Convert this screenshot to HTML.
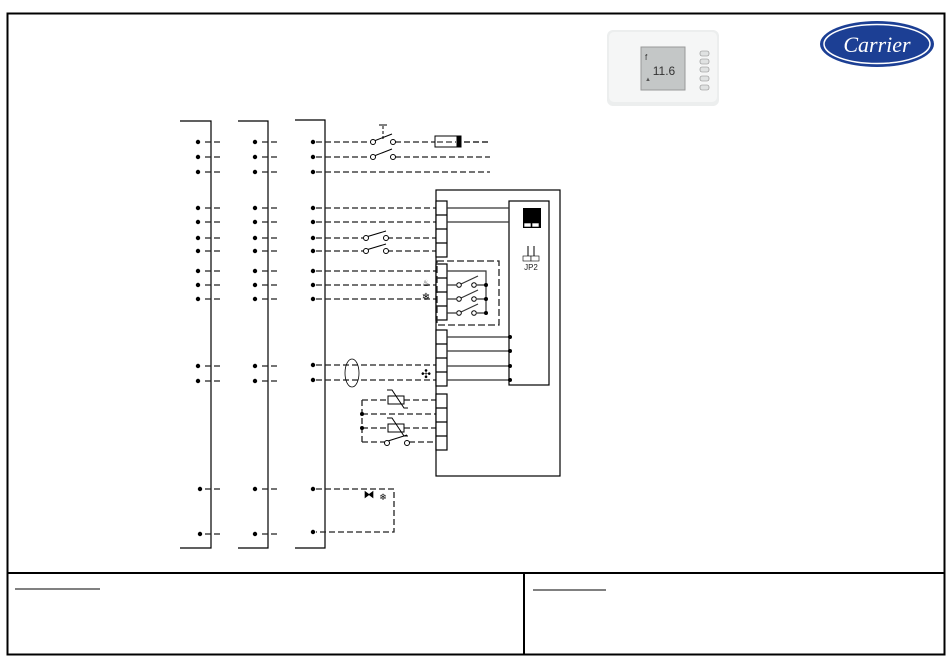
<!DOCTYPE html><html><head><meta charset="utf-8"><style>body{margin:0;background:#fff}svg{display:block}</style></head><body>
<svg width="950" height="667" viewBox="0 0 950 667" xmlns="http://www.w3.org/2000/svg" font-family="Liberation Sans, sans-serif">
<rect x="7.5" y="13.5" width="937" height="641" fill="none" stroke="#000" stroke-width="2"/>
<line x1="7" y1="573" x2="945" y2="573" stroke="#000" stroke-width="2"/>
<line x1="524" y1="573" x2="524" y2="655" stroke="#000" stroke-width="2"/>
<line x1="15" y1="589" x2="100" y2="589" stroke="#000"/>
<line x1="533" y1="590" x2="606" y2="590" stroke="#000"/>
<!-- thermostat -->
<rect x="607" y="30" width="112" height="76" rx="6" fill="#eceeee"/>
<rect x="609" y="32" width="108" height="70" rx="5" fill="#f5f6f6"/>
<rect x="641" y="47" width="44" height="43" fill="#c4c7c7" stroke="#999"/>
<text x="664" y="75" font-size="12" fill="#333" text-anchor="middle">11.6</text>
<text x="645" y="60" font-size="8" fill="#333">f</text>
<text x="645" y="81" font-size="6" fill="#555">▲</text>
<g fill="#e0e2e2" stroke="#888" stroke-width="0.6"><rect x="700" y="51" width="9" height="5" rx="2"/><rect x="700" y="59" width="9" height="5" rx="2"/><rect x="700" y="67" width="9" height="5" rx="2"/><rect x="700" y="76" width="9" height="5" rx="2"/><rect x="700" y="85" width="9" height="5" rx="2"/></g>
<!-- Carrier -->
<ellipse cx="877" cy="44" rx="57" ry="23" fill="#1c3f94"/>
<ellipse cx="877" cy="44" rx="53" ry="19.5" fill="none" stroke="#fff" stroke-width="1.5"/>
<text x="877" y="52" font-size="22" font-style="italic" font-family="Liberation Serif, serif" fill="#fff" text-anchor="middle">Carrier</text>
<!-- bus columns -->
<g stroke="#000" fill="none" stroke-width="1.2">
<polyline points="180,121 211,121 211,548 180,548"/>
<polyline points="238,121 268,121 268,548 238,548"/>
<polyline points="295,120 325,120 325,548 295,548"/>
</g>
<g fill="#000">
<circle cx="198" cy="142" r="2.2"/><circle cx="198" cy="157" r="2.2"/><circle cx="198" cy="172" r="2.2"/><circle cx="198" cy="208" r="2.2"/><circle cx="198" cy="222" r="2.2"/><circle cx="198" cy="238" r="2.2"/><circle cx="198" cy="251" r="2.2"/><circle cx="198" cy="271" r="2.2"/><circle cx="198" cy="285" r="2.2"/><circle cx="198" cy="299" r="2.2"/><circle cx="198" cy="366" r="2.2"/><circle cx="198" cy="381" r="2.2"/><circle cx="200" cy="489" r="2.2"/><circle cx="200" cy="534" r="2.2"/>
<circle cx="255" cy="142" r="2.2"/><circle cx="255" cy="157" r="2.2"/><circle cx="255" cy="172" r="2.2"/><circle cx="255" cy="208" r="2.2"/><circle cx="255" cy="222" r="2.2"/><circle cx="255" cy="238" r="2.2"/><circle cx="255" cy="251" r="2.2"/><circle cx="255" cy="271" r="2.2"/><circle cx="255" cy="285" r="2.2"/><circle cx="255" cy="299" r="2.2"/><circle cx="255" cy="366" r="2.2"/><circle cx="255" cy="381" r="2.2"/><circle cx="255" cy="489" r="2.2"/><circle cx="255" cy="534" r="2.2"/>
<circle cx="313" cy="142" r="2.2"/><circle cx="313" cy="157" r="2.2"/><circle cx="313" cy="172" r="2.2"/><circle cx="313" cy="208" r="2.2"/><circle cx="313" cy="222" r="2.2"/><circle cx="313" cy="238" r="2.2"/><circle cx="313" cy="251" r="2.2"/><circle cx="313" cy="271" r="2.2"/><circle cx="313" cy="285" r="2.2"/><circle cx="313" cy="299" r="2.2"/><circle cx="313" cy="365" r="2.2"/><circle cx="313" cy="380" r="2.2"/><circle cx="313" cy="489" r="2.2"/><circle cx="313" cy="532" r="2.2"/>
</g>
<g stroke="#222" stroke-width="1.3" stroke-dasharray="6,3" fill="none">
<path d="M205 142H220M205 157H220M205 172H220M205 208H220M205 222H220M205 238H220M205 251H220M205 271H220M205 285H220M205 299H220M205 366H220M205 381H220M205 489H220M205 534H220"/>
<path d="M262 142H277M262 157H277M262 172H277M262 208H277M262 222H277M262 238H277M262 251H277M262 271H277M262 285H277M262 299H277M262 366H277M262 381H277M262 489H277M262 534H277"/>
<path d="M316 142H371M395 142H435M316 157H371M395 157H490M316 172H490"/>
<path d="M316 208H436M316 222H436M316 238H363M387 238H436M316 251H363M387 251H436"/>
<path d="M316 271H436M316 285H436M316 299H436"/>
<path d="M316 365H436M316 380H436"/>
<path d="M362 400H388M404 400H436M362 414H436M362 428H388M404 428H436M362 442H386M409 442H436M362 400V442"/>
<path d="M316 489H394V532H316"/>
</g>
<!-- switches -->
<g stroke="#000" fill="#fff" stroke-width="1">
<line x1="374" y1="141" x2="392" y2="134"/><line x1="383" y1="126" x2="383" y2="140" stroke-dasharray="3,2"/><line x1="379" y1="125" x2="387" y2="125"/>
<circle cx="373" cy="142" r="2.5"/><circle cx="393" cy="142" r="2.5"/>
<line x1="374" y1="156" x2="392" y2="149"/><circle cx="373" cy="157" r="2.5"/><circle cx="393" cy="157" r="2.5"/>
<line x1="366" y1="237" x2="386" y2="231"/><circle cx="366" cy="238" r="2.5"/><circle cx="386" cy="238" r="2.5"/>
<line x1="366" y1="250" x2="386" y2="244"/><circle cx="366" cy="251" r="2.5"/><circle cx="386" cy="251" r="2.5"/>
<line x1="388" y1="441" x2="407" y2="435"/><circle cx="387" cy="443" r="2.5"/><circle cx="407" cy="443" r="2.5"/>
<rect x="435" y="136" width="25" height="11"/><rect x="457" y="136" width="4" height="11" fill="#000"/>
<line x1="437" y1="142" x2="456" y2="142" stroke-dasharray="6,3"/>
<line x1="464" y1="142" x2="490" y2="142" stroke-dasharray="6,3" stroke-width="1.3"/>
</g>
<ellipse cx="352" cy="373" rx="7" ry="14" fill="none" stroke="#000" stroke-width="0.8"/>
<!-- main box -->
<g stroke="#000" fill="#fff" stroke-width="1.2">
<rect x="436" y="190" width="124" height="286"/>
<rect x="509" y="201" width="40" height="184"/>
<rect x="436" y="201" width="11" height="56"/><path d="M436 215H447M436 229H447M436 243H447" fill="none"/>
<rect x="436" y="264" width="11" height="56"/><path d="M436 278H447M436 292H447M436 306H447" fill="none"/>
<rect x="436" y="330" width="11" height="56"/><path d="M436 344H447M436 358H447M436 372H447" fill="none"/>
<rect x="436" y="394" width="11" height="56"/><path d="M436 408H447M436 422H447M436 436H447" fill="none"/>
</g>
<rect x="437" y="261" width="62" height="64" fill="none" stroke="#222" stroke-width="1.3" stroke-dasharray="7,3"/>
<g stroke="#333" stroke-width="1.2" fill="none">
<path d="M447 208H509M447 222H509M447 337H510M447 351H510M447 366H510M447 380H510"/>
<path d="M447 271H486V314M447 285H456M447 299H456M447 313H456M477 285H486M477 299H486M477 313H486"/>
<path d="M461 284L478 276M461 298L478 290M461 312L478 304"/>
</g>
<g fill="#fff" stroke="#000" stroke-width="1"><circle cx="459" cy="285" r="2.3"/><circle cx="474" cy="285" r="2.3"/><circle cx="459" cy="299" r="2.3"/><circle cx="474" cy="299" r="2.3"/><circle cx="459" cy="313" r="2.3"/><circle cx="474" cy="313" r="2.3"/>
<rect x="388" y="396" width="16" height="8"/><rect x="388" y="424" width="16" height="8"/>
<path d="M387 390L392 390L404 408L408 408" fill="none"/><path d="M387 418L392 418L404 436L408 436" fill="none"/>
</g>
<g fill="#000"><circle cx="486" cy="285" r="2"/><circle cx="486" cy="299" r="2"/><circle cx="486" cy="313" r="2"/><circle cx="510" cy="337" r="2"/><circle cx="510" cy="351" r="2"/><circle cx="510" cy="366" r="2"/><circle cx="510" cy="380" r="2"/><circle cx="362" cy="414" r="2"/><circle cx="362" cy="428" r="2"/>
<rect x="523" y="208" width="18" height="20"/></g>
<g fill="#fff" stroke="#000" stroke-width="0.6"><rect x="524" y="223" width="7" height="4"/><rect x="532" y="223" width="7" height="4"/>
<rect x="523" y="256" width="8" height="5"/><rect x="531" y="256" width="8" height="5"/></g>
<path d="M528 246V256M534 246V256" stroke="#000"/>
<text x="531" y="270" font-size="8" text-anchor="middle" fill="#222">JP2</text>
<text x="426" y="286" font-size="9" text-anchor="middle">♨</text>
<text x="426" y="300" font-size="10" text-anchor="middle">❄</text>
<text x="426" y="378" font-size="12" text-anchor="middle">✣</text>
<text x="369" y="498" font-size="11" text-anchor="middle">⧓</text>
<text x="383" y="500" font-size="9" text-anchor="middle">❄</text>
</svg>
</body></html>
